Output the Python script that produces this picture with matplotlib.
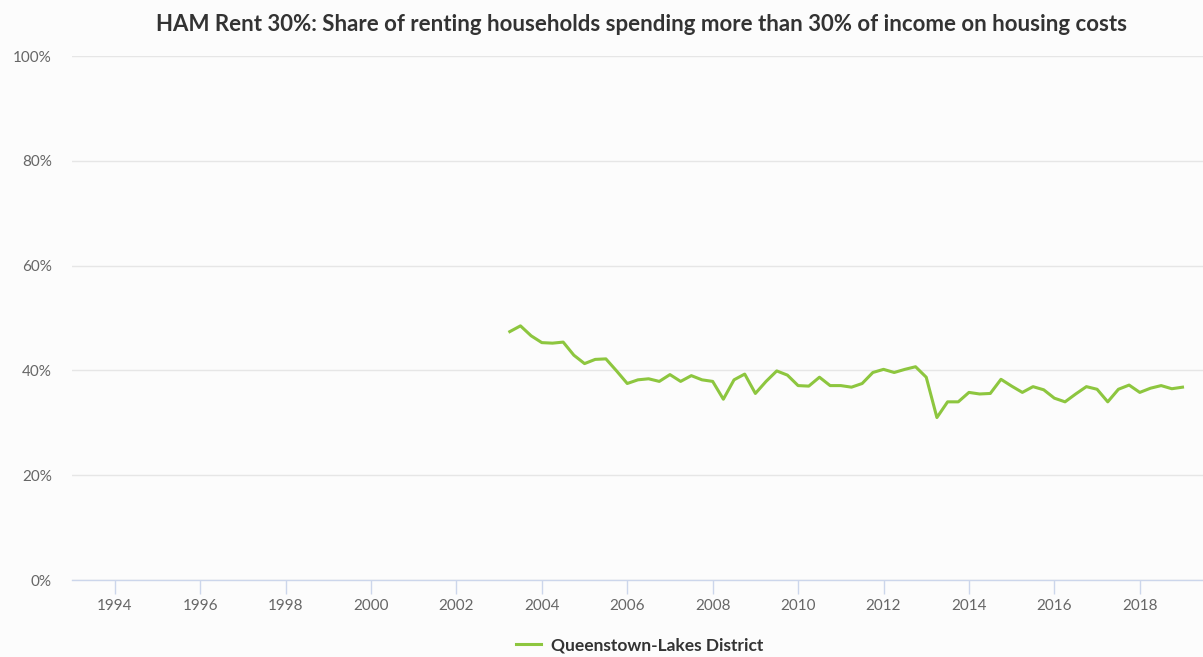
import matplotlib
matplotlib.use("Agg")
import matplotlib.pyplot as plt
import numpy as np

# quarterly series, Queenstown-Lakes District (2003 Q2 .. 2019 Q1)
start_year = 2003.25
share = [47.4, 48.5, 46.6, 45.3, 45.2, 45.4, 42.9, 41.3, 42.1, 42.2, 39.9,
         37.5, 38.2, 38.4, 37.9, 39.2, 37.9, 39.0, 38.2, 37.9, 34.5, 38.2,
         39.3, 35.6, 37.9, 39.9, 39.1, 37.1, 37.0, 38.7, 37.1, 37.1, 36.8,
         37.5, 39.6, 40.2, 39.6, 40.2, 40.7, 38.7, 31.0, 34.0, 34.0, 35.8,
         35.5, 35.6, 38.3, 37.0, 35.8, 36.9, 36.3, 34.7, 34.0, 35.5, 36.9,
         36.4, 34.0, 36.4, 37.2, 35.8, 36.6, 37.1, 36.5, 36.8]
years = start_year + 0.25 * np.arange(len(share))

x_ticks = list(range(1994, 2019, 2))
y_ticks = [0, 20, 40, 60, 80, 100]

bg = "#fcfcfc"
plt.rcParams['font.family'] = ['Lato', 'DejaVu Sans']

fig = plt.figure(figsize=(12.03, 6.57), dpi=100, facecolor=bg)
ax = fig.add_axes([72 / 1203, 1 - 580 / 657, 1 - 72 / 1203, (580 - 56) / 657])
ax.set_facecolor(bg)

ax.plot(years, share, color="#8dc63f", lw=2.2, label="Queenstown-Lakes District",
        solid_joinstyle="round")

ax.set_xlim(1993.0, 2019.48)
ax.set_ylim(0, 100)
ax.set_xticks(x_ticks)
ax.set_xticklabels([str(y) for y in x_ticks])
ax.set_yticks(y_ticks)
ax.set_yticklabels([f"{v}%" for v in y_ticks])

ax.grid(axis="y", color="#e6e6e6", lw=1)
ax.set_axisbelow(True)
for s in ["top", "right", "left"]:
    ax.spines[s].set_visible(False)
ax.spines["bottom"].set_color("#ccd6eb")
ax.spines["bottom"].set_linewidth(1)
ax.tick_params(axis="x", colors="#ccd6eb", length=10, width=1, labelcolor="#666666",
               labelsize=11, pad=4)
ax.tick_params(axis="y", length=0, labelcolor="#666666", labelsize=11, pad=14.5)

fig.text(0.533, 0.962, "HAM Rent 30%: Share of renting households spending more than 30% of income on housing costs",
         ha="center", va="center", fontsize=16, color="#333333", fontweight="bold")

leg = fig.legend(loc="center", bbox_to_anchor=(0.532, 0.018), frameon=False,
                 handlelength=1.4, handletextpad=0.6, fontsize=12.5)
for t in leg.get_texts():
    t.set_fontweight("bold")
    t.set_color("#333333")

fig.savefig("out.png", dpi=100, facecolor=bg)
